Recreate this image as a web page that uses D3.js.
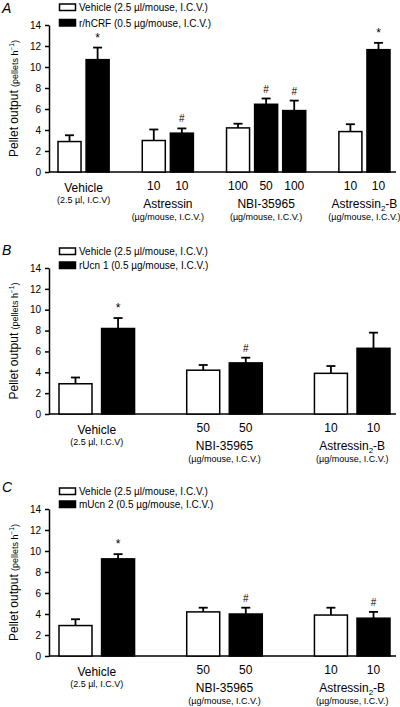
<!DOCTYPE html>
<html><head><meta charset="utf-8">
<script src="https://cdn.jsdelivr.net/npm/d3@7"></script>
<style>
html,body{margin:0;padding:0;background:#fff;}
svg{display:block;font-family:"Liberation Sans",Arial,Helvetica,sans-serif;}
</style></head>
<body><svg id="chart" width="400" height="707"></svg>
<script>
// ---------- DATA ----------
const yTicks = [0, 2, 4, 6, 8, 10, 12, 14];

// Panel A
const legendA = ["Vehicle (2.5 µl/mouse, I.C.V.)", "r/hCRF (0.5 µg/mouse, I.C.V.)"];
const slotsA = ["veh-v", "veh-t", "gap1", "astr-v", "astr-t", "gap2", "nbi-v", "nbi-t50", "nbi-t100", "gap3", "ast2-v", "ast2-t"];
const barsA = ["veh-v", "veh-t", "astr-v", "astr-t", "nbi-v", "nbi-t50", "nbi-t100", "ast2-v", "ast2-t"];
const treatA = [0, 1, 0, 1, 0, 1, 1, 0, 1];
const doseA = ["", "", "10", "10", "100", "50", "100", "10", "10"];
const meanA = [2.9, 10.7, 3.0, 3.7, 4.2, 6.45, 5.85, 3.85, 11.65];
const semA = [0.6, 1.15, 1.05, 0.45, 0.4, 0.55, 0.95, 0.7, 0.65];
const sigA = ["", "*", "", "#", "", "#", "#", "", "*"];
const groupOfA = [0, 0, 1, 1, 2, 2, 2, 3, 3];
const groupNamesA = ["Vehicle", "Astressin", "NBI-35965", "Astressin2-B"];
const groupSubsA = ["(2.5 µl, I.C.V)", "(µg/mouse, I.C.V.)", "(µg/mouse, I.C.V.)", "(µg/mouse, I.C.V.)"];

// Panel B
const legendB = ["Vehicle (2.5 µl/mouse, I.C.V.)", "rUcn 1 (0.5 µg/mouse, I.C.V.)"];
const slotsB = ["veh-v", "veh-t", "gap1", "nbi-v", "nbi-t", "gap2", "ast2-v", "ast2-t"];
const barsB = ["veh-v", "veh-t", "nbi-v", "nbi-t", "ast2-v", "ast2-t"];
const treatB = [0, 1, 0, 1, 0, 1];
const doseB = ["", "", "50", "50", "10", "10"];
const meanB = [2.9, 8.2, 4.2, 4.9, 3.9, 6.3];
const semB = [0.6, 1.0, 0.5, 0.5, 0.7, 1.5];
const sigB = ["", "*", "", "#", "", ""];
const groupOfB = [0, 0, 1, 1, 2, 2];
const groupNamesB = ["Vehicle", "NBI-35965", "Astressin2-B"];
const groupSubsB = ["(2.5 µl, I.C.V)", "(µg/mouse, I.C.V.)", "(µg/mouse, I.C.V.)"];

// Panel C
const legendC = ["Vehicle (2.5 µl/mouse, I.C.V.)", "mUcn 2 (0.5 µg/mouse, I.C.V.)"];
const slotsC = ["veh-v", "veh-t", "gap1", "nbi-v", "nbi-t", "gap2", "ast2-v", "ast2-t"];
const barsC = ["veh-v", "veh-t", "nbi-v", "nbi-t", "ast2-v", "ast2-t"];
const treatC = [0, 1, 0, 1, 0, 1];
const doseC = ["", "", "50", "50", "10", "10"];
const meanC = [2.9, 9.25, 4.2, 4.0, 3.9, 3.6];
const semC = [0.6, 0.45, 0.4, 0.6, 0.7, 0.6];
const sigC = ["", "*", "", "#", "", "#"];
const groupOfC = [0, 0, 1, 1, 2, 2];
const groupNamesC = ["Vehicle", "NBI-35965", "Astressin2-B"];
const groupSubsC = ["(2.5 µl, I.C.V)", "(µg/mouse, I.C.V.)", "(µg/mouse, I.C.V.)"];

// ---------- LAYOUT ----------
const panels = [
  {label: "A", legend: legendA, slots: slotsA, bars: barsA, treat: treatA, dose: doseA, mean: meanA, sem: semA, sig: sigA, groupOf: groupOfA, names: groupNamesA, subs: groupSubsA,
   yBase: 172, yTop: 25, xRange: [58, 390], pad: 0.18, cap: 9, legY: [11, 26.5], labY: 13},
  {label: "B", legend: legendB, slots: slotsB, bars: barsB, treat: treatB, dose: doseB, mean: meanB, sem: semB, sig: sigB, groupOf: groupOfB, names: groupNamesB, subs: groupSubsB,
   yBase: 414, yTop: 268, xRange: [59, 390], pad: 0.225, cap: 9, legY: [255, 269], labY: 255},
  {label: "C", legend: legendC, slots: slotsC, bars: barsC, treat: treatC, dose: doseC, mean: meanC, sem: semC, sig: sigC, groupOf: groupOfC, names: groupNamesC, subs: groupSubsC,
   yBase: 656, yTop: 509, xRange: [59, 390], pad: 0.225, cap: 9, legY: [495, 508], labY: 492}
];

const svg = d3.select("#chart");
const axisX = 49;
const fills = ["#fff", "#000"];

function addLabel(sel, text) {
  // handles subscript "2" in Astressin2-B
  if (text === "Astressin2-B") {
    sel.append("tspan").text("Astressin");
    sel.append("tspan").attr("font-size", 8).attr("dy", 3).text("2");
    sel.append("tspan").attr("dy", -3).text("-B");
  } else sel.text(text);
}

panels.forEach(p => {
  const g = svg.append("g");
  const y = d3.scaleLinear().domain([0, 14]).range([p.yBase, p.yTop]);
  const x = d3.scaleBand().domain(p.slots).range(p.xRange).paddingInner(p.pad).paddingOuter(0);
  const bw = x.bandwidth();

  // panel label
  g.append("text").attr("x", 2).attr("y", p.labY).attr("font-size", 14).attr("font-style", "italic").text(p.label);

  // y axis
  const ax = g.append("g").attr("transform", `translate(${axisX},0)`)
    .call(d3.axisLeft(y).tickValues(yTicks).tickSize(4).tickPadding(4).tickSizeOuter(0));
  ax.selectAll("text").attr("font-size", 10).attr("font-family", "Liberation Sans, Arial, sans-serif").attr("fill", "#000");
  ax.selectAll("line").attr("stroke-width", 1.5);
  ax.select(".domain").attr("stroke-width", 1.5);

  // y title
  const yt = g.append("text")
    .attr("transform", `translate(18,${(p.yBase + p.yTop) / 2}) rotate(-90)`)
    .attr("text-anchor", "middle").attr("font-size", 12);
  yt.append("tspan").text("Pellet output ");
  yt.append("tspan").attr("font-size", 9).text("(pellets h");
  yt.append("tspan").attr("font-size", 6.5).attr("dy", -4).text("−1");
  yt.append("tspan").attr("font-size", 9).attr("dy", 4).text(")");

  // x baseline
  g.append("line").attr("x1", axisX).attr("x2", 396).attr("y1", y(0)).attr("y2", y(0))
    .attr("stroke", "#000").attr("stroke-width", 1.5);

  // error bars
  p.bars.forEach((b, i) => {
    const cx = x(b) + bw / 2;
    const top = y(p.mean[i] + p.sem[i]);
    g.append("line").attr("x1", cx).attr("x2", cx).attr("y1", y(p.mean[i])).attr("y2", top)
      .attr("stroke", "#000").attr("stroke-width", 1.8);
    g.append("line").attr("x1", cx - p.cap / 2).attr("x2", cx + p.cap / 2).attr("y1", top).attr("y2", top)
      .attr("stroke", "#000").attr("stroke-width", 1.8);
    if (p.sig[i]) {
      g.append("text").attr("x", cx).attr("y", top - 6).attr("text-anchor", "middle")
        .attr("font-size", p.sig[i] === "*" ? 12 : 10).text(p.sig[i]);
    }
  });

  // bars
  g.selectAll("rect.bar").data(p.bars).enter().append("rect").attr("class", "bar")
    .attr("x", d => x(d)).attr("width", bw)
    .attr("y", (d, i) => y(p.mean[i])).attr("height", (d, i) => y(0) - y(p.mean[i]))
    .attr("fill", (d, i) => fills[p.treat[i]]).attr("stroke", "#000").attr("stroke-width", 1.5);

  // dose labels
  p.bars.forEach((b, i) => {
    if (p.dose[i]) g.append("text").attr("x", x(b) + bw / 2).attr("y", y(0) + 18)
      .attr("text-anchor", "middle").attr("font-size", 12).text(p.dose[i]);
  });

  // group labels
  p.names.forEach((name, gi) => {
    const members = p.bars.filter((b, i) => p.groupOf[i] === gi);
    const x0 = x(members[0]), x1 = x(members[members.length - 1]) + bw;
    const cx = (x0 + x1) / 2;
    const hasDose = p.bars.some((b, i) => p.groupOf[i] === gi && p.dose[i]);
    const t = g.append("text").attr("x", cx).attr("y", y(0) + (hasDose ? 36 : 20))
      .attr("text-anchor", "middle").attr("font-size", 12);
    addLabel(t, name);
    g.append("text").attr("x", cx).attr("y", y(0) + (hasDose ? 48 : 31))
      .attr("text-anchor", "middle").attr("font-size", 9).text(p.subs[gi]);
  });

  // legend
  p.legend.forEach((txt, li) => {
    const by = p.legY[li];
    g.append("rect").attr("x", 59.5).attr("y", by - 7).attr("width", 16).attr("height", 6.5)
      .attr("fill", fills[li]).attr("stroke", "#000").attr("stroke-width", 1.5);
    g.append("text").attr("x", 79).attr("y", by).attr("font-size", 10).text(txt);
  });
});
</script>
</body></html>
